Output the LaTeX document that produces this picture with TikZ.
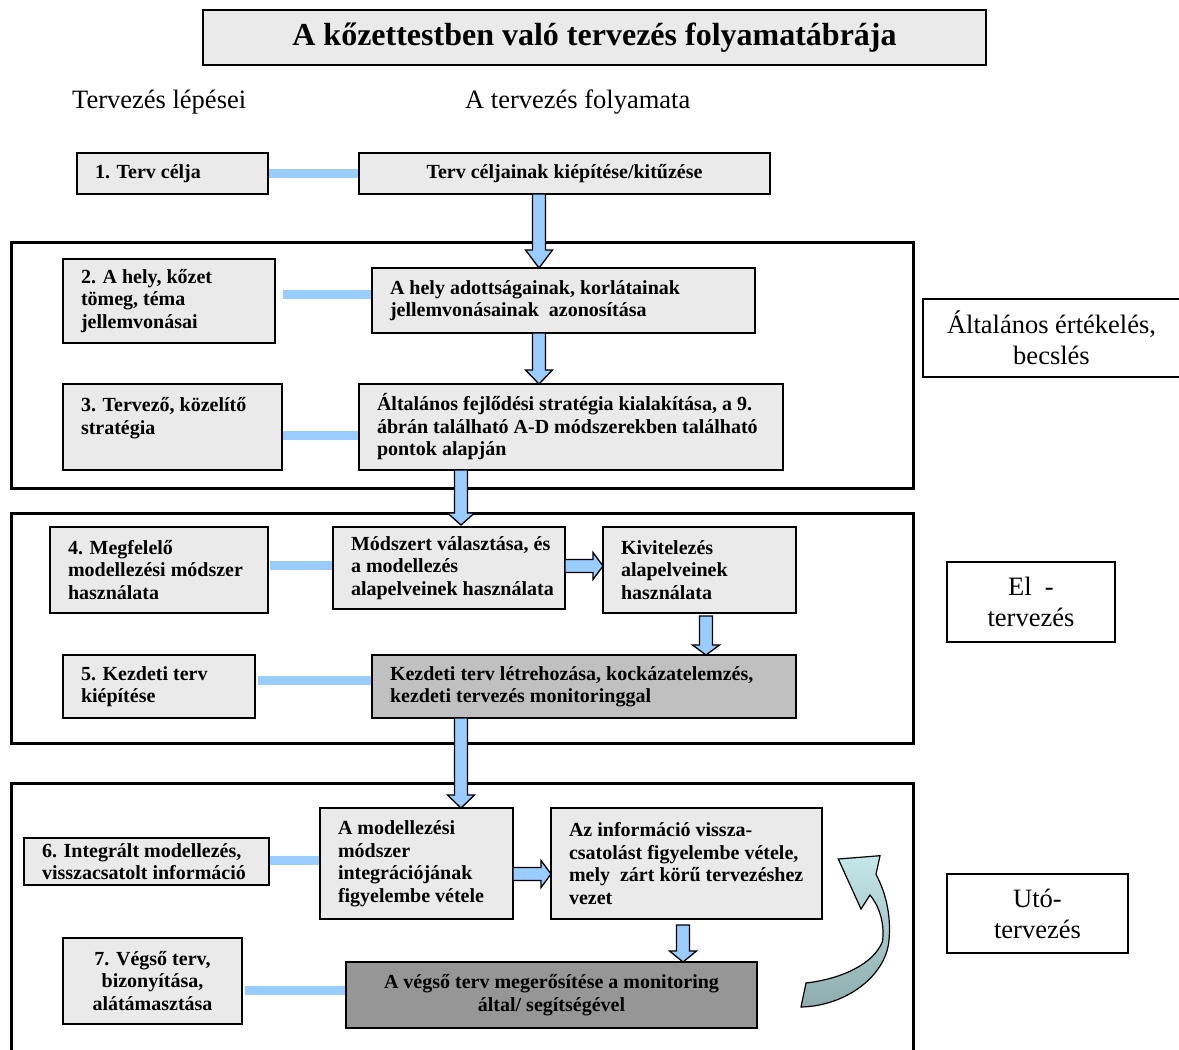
\documentclass[tikz,border=0pt]{standalone}
\usepackage{fontspec}
\setmainfont{Liberation Serif}
\usetikzlibrary{calc,backgrounds}
\definecolor{lg}{HTML}{EAEAEA}
\definecolor{mg}{HTML}{C0C0C0}
\definecolor{dg}{HTML}{969696}
\definecolor{ab}{HTML}{99CCFF}
\definecolor{ctop}{HTML}{C4E7E9}
\definecolor{cbot}{HTML}{8EACAE}
\tikzset{
 boxst/.style={draw=black, line width=1.8pt, fill=lg, outer sep=0pt, inner sep=0pt, rectangle},
 txt/.style={font=\bfseries\fontsize{20}{22.5}\selectfont, inner sep=0pt, outer sep=0pt},
 lab/.style={draw=black, line width=1.3pt, fill=white, outer sep=0pt, inner sep=0pt, rectangle},
 labtxt/.style={font=\fontsize{26.5}{31}\selectfont, inner sep=0pt, align=center},
 hdr/.style={font=\fontsize{26.5}{31}\selectfont, inner sep=0pt, anchor=base west},
 conn/.style={draw=ab, line width=9pt},
 barrow/.style={draw=black, line width=1.3pt, fill=ab, line join=miter},
 frame/.style={draw=black, line width=3pt},
}
\newcommand\lbox[7]{%
 \node[boxst,#6, minimum width=#4pt, minimum height=#5pt, anchor=north west] (#1) at (#2,#3) {};
 \node[txt, anchor=west, align=left] (#1t) at ([xshift=18pt]#1.west) {#7};}
\newcommand\cbox[7]{%
 \node[boxst,#6, minimum width=#4pt, minimum height=#5pt, anchor=north west] (#1) at (#2,#3) {};
 \node[txt, align=center] (#1t) at (#1.center) {#7};}
\newcommand\arrdown[3]{%
 \filldraw[barrow] let \p1=(#1), \p2=(#2) in
  (\x1-6.5pt,\y1) -- (\x1-6.5pt,\y2+#3pt) -- (\x1-13.5pt,\y2+#3pt) -- (\x1,\y2)
  -- (\x1+13.5pt,\y2+#3pt) -- (\x1+6.5pt,\y2+#3pt) -- (\x1+6.5pt,\y1) -- cycle;}
\newcommand\arrright[3]{%
 \filldraw[barrow] let \p1=(#1), \p2=(#2) in
  (\x1,\y1+6.5pt) -- (\x2-#3pt,\y1+6.5pt) -- (\x2-#3pt,\y1+13.5pt) -- (\x2,\y1)
  -- (\x2-#3pt,\y1-13.5pt) -- (\x2-#3pt,\y1-6.5pt) -- (\x1,\y1-6.5pt) -- cycle;}
\begin{document}
\begin{tikzpicture}[x=1pt,y=-1pt]
\useasboundingbox (0,0) rectangle (1179,1050);
% title
\node[boxst, minimum width=783pt, minimum height=55pt, anchor=north west] (title) at (203,10) {};
\node[font=\bfseries\fontsize{32}{36}\selectfont, inner sep=0pt] (titlet) at (title.center) {A kőzettestben való tervezés folyamatábrája};
% headers
\node[hdr] (h1) at (72,108) {Tervezés lépései};
\node[hdr] (h2) at (465,108) {A tervezés folyamata};
% frames
\draw[frame] (11,242) rectangle (913,488);
\draw[frame] (11,513) rectangle (913,743);
\draw[frame] (11,1056) -- (11,783) -- (913,783) -- (913,1056);
% boxes
\lbox{b1}{77}{153}{191}{41}{}{1. Terv célja}
\cbox{p1}{359}{153}{411}{41}{}{Terv céljainak kiépítése/kitűzése}
\lbox{b2}{63}{259}{212}{84}{}{2. A hely, kőzet\\tömeg, téma\\jellemvonásai}
\lbox{p2}{372}{268}{383}{65}{}{A hely adottságainak, korlátainak\\jellemvonásainak\ \ azonosítása}
\lbox{b3}{63}{384}{219}{86}{}{3. Tervező, közelítő\\stratégia\\\mbox{}}
\lbox{p3}{359}{384}{424}{86}{}{Általános fejlődési stratégia kialakítása, a 9.\\ábrán található A-D módszerekben található\\pontok alapján}
\lbox{b4}{50}{527}{218}{86}{}{4. Megfelelő\\modellezési módszer\\használata}
\lbox{p4a}{333}{527}{232}{82}{}{Módszert választása, és\\a modellezés\\alapelveinek használata}
\lbox{p4b}{603}{527}{193}{86}{}{Kivitelezés\\alapelveinek\\használata}
\lbox{b5}{63}{655}{192}{63}{}{5. Kezdeti terv\\kiépítése}
\lbox{p5}{372}{655}{424}{63}{fill=mg}{Kezdeti terv létrehozása, kockázatelemzés,\\kezdeti tervezés monitoringgal}
\lbox{b6}{24}{838}{245}{47}{}{6. Integrált modellezés,\\visszacsatolt információ}
\lbox{p6a}{320}{808}{193}{111}{}{A modellezési\\módszer\\integrációjának\\figyelembe vétele}
\lbox{p6b}{551}{808}{271}{111}{}{Az információ vissza-\\csatolást figyelembe vétele,\\mely\ \ zárt körű tervezéshez\\vezet}
\cbox{b7}{63}{938}{179}{86}{}{7. Végső terv,\\bizonyítása,\\alátámasztása}
\cbox{p7}{346}{962}{411}{66}{fill=dg}{A végső terv megerősítése a monitoring\\által/ segítségével}
% connectors
\begin{pgfonlayer}{background}
\draw[conn] (b1.east) -- (p1.west);
\draw[conn] ([xshift=8pt,yshift=7pt]b2.east) coordinate (c2) -- (c2 -| p2.west);
\draw[conn] ([xshift=1pt,yshift=-8pt]b3.east) coordinate (c3) -- (c3 -| p3.west);
\draw[conn] ([xshift=2pt,yshift=5pt]b4.east) coordinate (c4) -- (c4 -| p4a.west);
\draw[conn] ([xshift=3pt,yshift=6.5pt]b5.east) coordinate (c5) -- (c5 -| p5.west);
\draw[conn] ([xshift=1pt,yshift=1.5pt]b6.east) coordinate (c6) -- (c6 -| p6a.west);
\draw[conn] ([xshift=3pt,yshift=-9pt]b7.east) coordinate (c7) -- (c7 -| p7.west);
\end{pgfonlayer}
% block arrows
\arrdown{[xshift=-25.5pt]p1.south}{p2.north}{18}
\arrdown{[xshift=-24.5pt]p2.south}{p3.north}{14}
\arrdown{[xshift=-110pt]p3.south}{[yshift=2pt]p4a.north}{12}
\arrright{[yshift=2pt]p4a.east}{p4b.west}{10}
\arrdown{[xshift=6.5pt,yshift=-3pt]p4b.south}{p5.north}{10}
\arrdown{[xshift=-123pt]p5.south}{p6a.north}{13}
\arrright{[yshift=-10.5pt]p6a.east}{p6b.west}{10}
\arrdown{[xshift=-3.5pt,yshift=-6pt]p6b.south}{p7.north}{11}
% curved arrow
\shadedraw[top color=ctop, bottom color=cbot, draw=black, line width=1.2pt, line join=miter]
 (806,983) .. controls (840,979) and (873,965) .. (882.5,941.5)
 .. controls (885,921.7) and (878.3,905) .. (870,895)
 -- (861,909) -- (838.3,859) -- (880,855.7) -- (876,874.3)
 .. controls (887,895) and (891,918) .. (889,940)
 .. controls (886,976) and (846,1006) .. (801,1007)
 -- cycle;
% right labels
\node[lab, minimum width=259pt, minimum height=78pt, anchor=north west] (r1) at (923,299) {};
\node[labtxt] (r1t) at ([xshift=-1pt]r1.center) {Általános értékelés,\\becslés};
\node[lab, minimum width=168pt, minimum height=80pt, anchor=north west] (r2) at (947,562) {};
\node[labtxt] (r2t) at (r2.center) {El\ \ -\\tervezés};
\node[lab, minimum width=181pt, minimum height=79pt, anchor=north west] (r3) at (947,874) {};
\node[labtxt] (r3t) at (r3.center) {Utó-\\tervezés};
\end{tikzpicture}
\end{document}
